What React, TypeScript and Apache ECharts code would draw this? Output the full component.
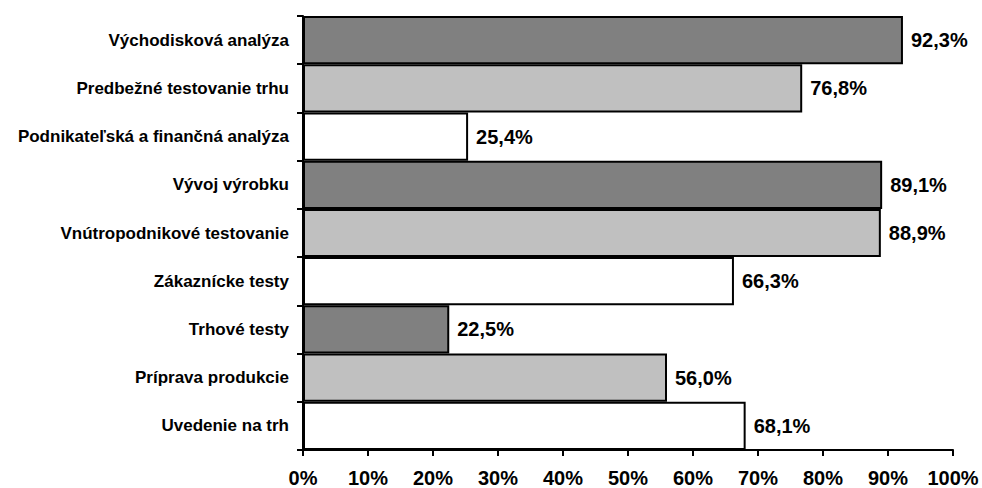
import React, { useEffect, useRef } from "react";
import * as echarts from "echarts";

// Phases of product development and the share of firms that carry them out
const categories = [
  "Východisková analýza",
  "Predbežné testovanie trhu",
  "Podnikateľská a finančná analýza",
  "Vývoj výrobku",
  "Vnútropodnikové testovanie",
  "Zákaznícke testy",
  "Trhové testy",
  "Príprava produkcie",
  "Uvedenie na trh",
];
const shares = [92.3, 76.8, 25.4, 89.1, 88.9, 66.3, 22.5, 56.0, 68.1];
const barFills = ["#808080", "#c0c0c0", "#ffffff"];

const FONT = '"Liberation Sans", Arial, Helvetica, sans-serif';

export default function App() {
  const ref = useRef<HTMLDivElement>(null);

  useEffect(() => {
    if (!ref.current) return;
    const chart = echarts.init(ref.current, undefined, { renderer: "svg" });
    chart.setOption({
      animation: false,
      backgroundColor: "#ffffff",
      grid: {
        left: 303,
        right: 29,
        top: 16,
        bottom: 38,
        containLabel: false,
        outerBoundsMode: "none",
      },
      xAxis: {
        type: "value",
        min: 0,
        max: 100,
        interval: 10,
        splitLine: { show: false },
        axisLine: { show: true, lineStyle: { color: "#000", width: 2 } },
        axisTick: { show: true, length: 6, lineStyle: { color: "#000", width: 2 } },
        axisLabel: {
          margin: 18,
          lineHeight: 20,
          color: "#000",
          fontFamily: FONT,
          fontWeight: "bold",
          fontSize: 20,
          formatter: (v: number) => `${v}%`,
        },
      },
      yAxis: {
        type: "category",
        inverse: true,
        data: categories,
        axisLine: { show: true, lineStyle: { color: "#000", width: 2 } },
        axisTick: { show: true, length: 6, lineStyle: { color: "#000", width: 2 } },
        axisLabel: {
          margin: 14,
          color: "#000",
          fontFamily: FONT,
          fontWeight: "bold",
          fontSize: 17,
        },
      },
      series: [
        {
          type: "bar",
          barCategoryGap: 0,
          data: shares.map((v, i) => ({
            value: v,
            itemStyle: { color: barFills[i % barFills.length] },
          })),
          itemStyle: { borderColor: "#000", borderWidth: 2 },
          label: {
            show: true,
            position: "right",
            distance: 8,
            color: "#000",
            fontFamily: FONT,
            fontWeight: "bold",
            fontSize: 20,
            formatter: (p: any) => `${p.value.toFixed(1).replace(".", ",")}%`,
          },
        },
      ],
    });
    return () => chart.dispose();
  }, []);

  return (
    <div
      ref={ref}
      style={{ position: "fixed", left: 0, top: 0, width: 982, height: 488 }}
    />
  );
}
